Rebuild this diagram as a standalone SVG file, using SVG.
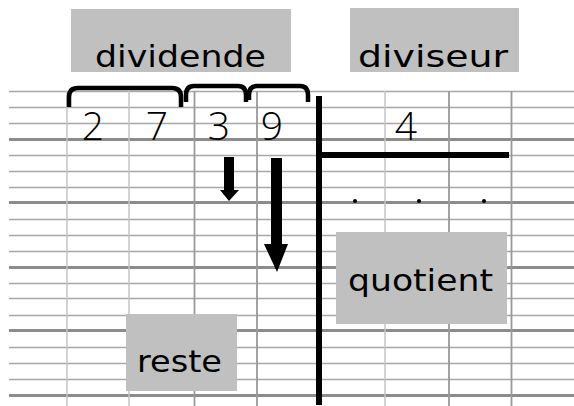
<svg xmlns="http://www.w3.org/2000/svg" width="574" height="406" viewBox="0 0 574 406">
<style>
.h{stroke:#a8a8a8;stroke-width:1.5}
.hk{stroke:#8c8c8c;stroke-width:3}
.vl{stroke:#c4c4c4;stroke-width:1.5}
.vd{stroke:#999;stroke-width:1.8}
.box{fill:#c0c0c0}
.lbl{font-family:"DejaVu Sans",sans-serif;font-size:30px;fill:#000}
.dig{font-family:"Open Sans","Liberation Sans",sans-serif;font-weight:300;font-size:39px;fill:#000;text-anchor:middle}
.br{fill:none;stroke:#000;stroke-width:4.5;stroke-linejoin:round}
.bar{stroke:#000;stroke-width:6}
</style>
<rect width="574" height="406" fill="#fff"/>
<g id="grid">
<line class="h" x1="9" y1="91.5" x2="574" y2="91.5"/>
<line class="h" x1="9" y1="107.5" x2="574" y2="107.5"/>
<line class="h" x1="9" y1="123.5" x2="574" y2="123.5"/>
<line class="hk" x1="9" y1="139.5" x2="574" y2="139.5"/>
<line class="h" x1="9" y1="155.5" x2="574" y2="155.5"/>
<line class="h" x1="9" y1="171.5" x2="574" y2="171.5"/>
<line class="h" x1="9" y1="187.5" x2="574" y2="187.5"/>
<line class="hk" x1="9" y1="202.5" x2="574" y2="202.5"/>
<line class="h" x1="9" y1="219.5" x2="574" y2="219.5"/>
<line class="h" x1="9" y1="235.5" x2="574" y2="235.5"/>
<line class="h" x1="9" y1="251.5" x2="574" y2="251.5"/>
<line class="hk" x1="9" y1="267.5" x2="574" y2="267.5"/>
<line class="h" x1="9" y1="283.5" x2="574" y2="283.5"/>
<line class="h" x1="9" y1="298.5" x2="574" y2="298.5"/>
<line class="h" x1="9" y1="315.5" x2="574" y2="315.5"/>
<line class="hk" x1="9" y1="330.5" x2="574" y2="330.5"/>
<line class="h" x1="9" y1="347.5" x2="574" y2="347.5"/>
<line class="h" x1="9" y1="363.5" x2="574" y2="363.5"/>
<line class="h" x1="9" y1="379.5" x2="574" y2="379.5"/>
<line class="hk" x1="9" y1="395.5" x2="574" y2="395.5"/>
<line class="vl" x1="67" y1="91" x2="67" y2="406"/>
<line class="vl" x1="129" y1="91" x2="129" y2="406"/>
<line class="vd" x1="194.5" y1="91" x2="194.5" y2="406"/>
<line class="vd" x1="257" y1="91" x2="257" y2="406"/>
<line class="vl" x1="385" y1="91" x2="385" y2="406"/>
<line class="vd" x1="449" y1="91" x2="449" y2="406"/>
<line class="vd" x1="511.5" y1="91" x2="511.5" y2="406"/>
</g>
<g id="label-dividende">
<rect class="box" x="71" y="9" width="220" height="63"/>
<text class="lbl" x="95" y="67" textLength="171" lengthAdjust="spacingAndGlyphs">dividende</text>
</g>
<g id="label-diviseur">
<rect class="box" x="350" y="8" width="169" height="64"/>
<text class="lbl" x="358" y="67" textLength="150" lengthAdjust="spacingAndGlyphs">diviseur</text>
</g>
<g id="label-quotient">
<rect class="box" x="336" y="232" width="171" height="92"/>
<text class="lbl" x="348" y="291" textLength="145" lengthAdjust="spacingAndGlyphs">quotient</text>
</g>
<g id="label-reste">
<rect class="box" x="126" y="314" width="111" height="77"/>
<text class="lbl" x="137" y="372" textLength="85" lengthAdjust="spacingAndGlyphs">reste</text>
</g>
<g id="digits">
<text class="dig" x="93" y="140">2</text>
<text class="dig" x="157" y="140">7</text>
<text class="dig" x="219" y="140">3</text>
<text class="dig" x="272" y="140">9</text>
<text class="dig" x="406" y="140">4</text>
</g>
<g id="braces">
<path class="br" d="M69 107 V97 Q69 88 78 88 H172 Q181 88 181 97 V107"/>
<path class="br" d="M186 102 V95 Q186 86 194 86 H238 Q246 86 246 95 V102"/>
<path class="br" d="M249 100 V95 Q249 86 257 86 H300 Q308 86 308 95 V102"/>
</g>
<g id="connectors">
<line class="bar" x1="319" y1="96" x2="319" y2="405"/>
<line class="bar" x1="316" y1="155" x2="509" y2="155"/>
<polygon points="224,157 234,157 234,190 239,190 229,201 220,190 224,190" fill="#000"/>
<polygon points="271,158 282,158 282,244 288,244 277,272 264,244 271,244" fill="#000"/>
</g>
<g id="dots" fill="#000">
<circle cx="355" cy="201" r="2"/>
<circle cx="419" cy="201" r="2"/>
<circle cx="484" cy="201" r="2"/>
</g>
</svg>
